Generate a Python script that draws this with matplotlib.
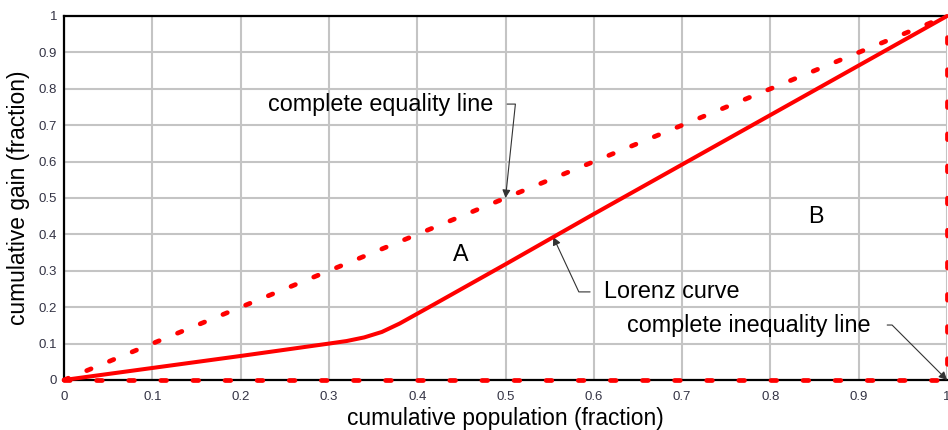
import matplotlib
matplotlib.use("Agg")
import matplotlib.pyplot as plt
import numpy as np

plt.rcParams['font.family'] = ['Liberation Sans', 'DejaVu Sans']

# Lorenz curve
pop = [0, 0.1, 0.2, 0.3, 0.32, 0.34, 0.36, 0.38, 0.4, 0.42,
       0.5, 0.6, 0.7, 0.8, 0.9, 1.0]
gain = [0, 0.033, 0.066, 0.1, 0.107, 0.117, 0.132, 0.155, 0.182, 0.209,
        0.318, 0.456, 0.592, 0.728, 0.864, 1.0]

eq_x = [0, 1]
eq_y = [0, 1]

ineq_x = [0, 1, 1]
ineq_y = [0, 0, 1]

ticks = [0, 0.1, 0.2, 0.3, 0.4, 0.5, 0.6, 0.7, 0.8, 0.9, 1]
tick_labels = ['0', '0.1', '0.2', '0.3', '0.4', '0.5', '0.6', '0.7', '0.8', '0.9', '1']

red = '#ff0000'

fig = plt.figure(figsize=(9.48, 4.3), dpi=100)
ax = fig.add_axes([0.0675, 0.1163, 0.9315, 0.8465])

ax.plot(ineq_x, ineq_y, color=red, lw=3.4, ls=(0, (1.2, 5.6)),
        dash_capstyle='round', clip_on=False, zorder=3)
ax.plot(eq_x, eq_y, color=red, lw=3.4, ls=(0, (1.0, 4.2)),
        dash_capstyle='round', clip_on=False, zorder=3)
ax.plot(pop, gain, color=red, lw=2.9, solid_capstyle='round',
        solid_joinstyle='round', clip_on=False, zorder=4)

ax.set_xlim(0, 1)
ax.set_ylim(0, 1)
ax.set_xticks(ticks)
ax.set_xticklabels(tick_labels)
ax.set_yticks(ticks)
ax.set_yticklabels(tick_labels)
ax.tick_params(length=0, labelsize=9.5, labelcolor='#333344')
ax.tick_params(axis='x', pad=8)
ax.tick_params(axis='y', pad=5)
ax.grid(True, color='#c4c4c4', lw=1.5)
ax.set_axisbelow(True)

for s in ['top', 'left', 'bottom']:
    ax.spines[s].set_color('black')
    ax.spines[s].set_linewidth(1.6)
ax.spines['right'].set_visible(False)
ax.spines['bottom'].set_zorder(2.5)

ax.set_xlabel('cumulative population (fraction)', fontsize=16.4, labelpad=3)
ax.set_ylabel('cumulative gain (fraction)', fontsize=16.4, labelpad=6)

arrow = dict(arrowstyle='-|>', color='#333333', lw=0.8, mutation_scale=12)
fs = 16.8

ax.annotate('complete equality line', xy=(0.5, 0.5), xytext=(0.231, 0.758),
            fontsize=fs, va='center', ha='left',
            arrowprops=dict(arrow, connectionstyle='angle,angleA=0,angleB=84,rad=0',
                            shrinkA=8, shrinkB=0))
ax.annotate('Lorenz curve', xy=(0.554, 0.393), xytext=(0.6115, 0.242),
            fontsize=fs, va='center', ha='left',
            arrowprops=dict(arrow, connectionstyle='angle,angleA=0,angleB=115,rad=0',
                            shrinkA=8, shrinkB=0))
ax.annotate('complete inequality line', xy=(1.0, 0.0), xytext=(0.6376, 0.151),
            fontsize=fs, va='center', ha='left', annotation_clip=False,
            arrowprops=dict(arrow, connectionstyle='angle,angleA=0,angleB=135,rad=0',
                            shrinkA=10, shrinkB=0))

ax.text(0.449, 0.346, 'A', fontsize=fs, ha='center', va='center')
ax.text(0.851, 0.448, 'B', fontsize=fs, ha='center', va='center')

fig.savefig('out.png', dpi=100)
